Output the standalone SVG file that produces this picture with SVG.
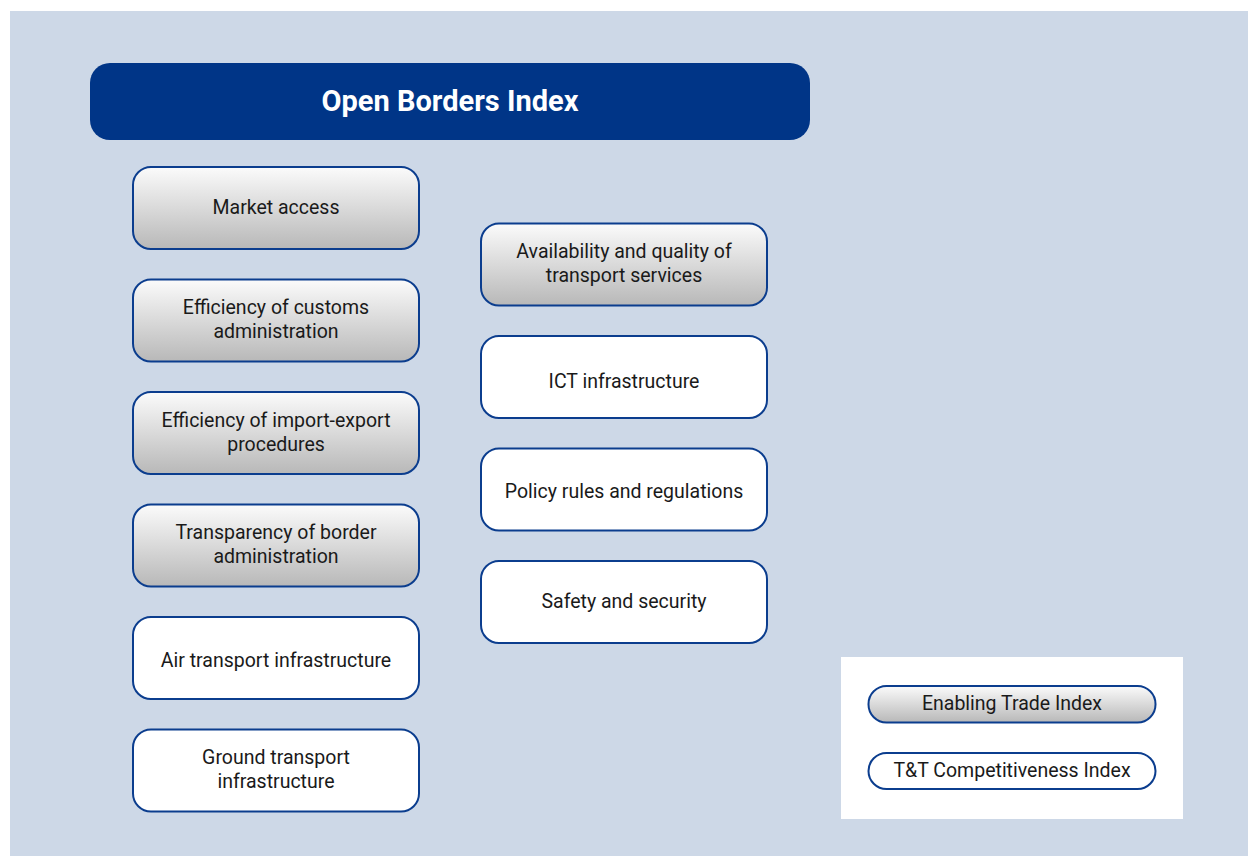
<svg xmlns="http://www.w3.org/2000/svg" width="1248" height="856" viewBox="0 0 1248 856">
<defs>
<linearGradient id="g" x1="0" y1="0" x2="0" y2="1">
<stop offset="0" stop-color="#fbfbfb"/>
<stop offset="1" stop-color="#b8b8b8"/>
</linearGradient>
</defs>
<style>
.box{stroke:#0b3d8e;stroke-width:2}
.grad{fill:url(#g)}
.white{fill:#ffffff}
.t{font-family:"Liberation Sans Narrow","Roboto","Liberation Sans",sans-serif;font-size:19.5px;fill:#1a1a1a;text-anchor:middle}
.title{font-family:"Liberation Sans Narrow","Roboto","Liberation Sans",sans-serif;font-size:29px;font-weight:bold;fill:#ffffff;text-anchor:middle}
</style>
<rect x="0" y="0" width="1248" height="856" fill="#ffffff"/>
<rect x="10" y="11" width="1238" height="845" fill="#cdd8e7"/>
<g id="header">
<rect x="90" y="63" width="720" height="77" rx="20" fill="#003587"/>
<text class="title" x="450" y="111">Open Borders Index</text>
</g>
<g id="market-access">
<rect class="box grad" x="133" y="167" width="286" height="82" rx="18"/>
<text class="t" x="276" y="214">Market access</text>
</g>
<g id="customs">
<rect class="box grad" x="133" y="279.5" width="286" height="82" rx="18"/>
<text class="t" x="276" y="314">Efficiency of customs</text>
<text class="t" x="276" y="338">administration</text>
</g>
<g id="import-export">
<rect class="box grad" x="133" y="392" width="286" height="82" rx="18"/>
<text class="t" x="276" y="427">Efficiency of import-export</text>
<text class="t" x="276" y="451">procedures</text>
</g>
<g id="transparency">
<rect class="box grad" x="133" y="504.5" width="286" height="82" rx="18"/>
<text class="t" x="276" y="539">Transparency of border</text>
<text class="t" x="276" y="563">administration</text>
</g>
<g id="air">
<rect class="box white" x="133" y="617" width="286" height="82" rx="18"/>
<text class="t" x="276" y="667">Air transport infrastructure</text>
</g>
<g id="ground">
<rect class="box white" x="133" y="729.5" width="286" height="82" rx="18"/>
<text class="t" x="276" y="764">Ground transport</text>
<text class="t" x="276" y="788">infrastructure</text>
</g>
<g id="transport-services">
<rect class="box grad" x="481" y="223.5" width="286" height="82" rx="18"/>
<text class="t" x="624" y="258">Availability and quality of</text>
<text class="t" x="624" y="282">transport services</text>
</g>
<g id="ict">
<rect class="box white" x="481" y="336" width="286" height="82" rx="18"/>
<text class="t" x="624" y="388">ICT infrastructure</text>
</g>
<g id="policy">
<rect class="box white" x="481" y="448.5" width="286" height="82" rx="18"/>
<text class="t" x="624" y="498">Policy rules and regulations</text>
</g>
<g id="safety">
<rect class="box white" x="481" y="561" width="286" height="82" rx="18"/>
<text class="t" x="624" y="608">Safety and security</text>
</g>
<g id="legend">
<rect x="841" y="657" width="342" height="162" fill="#ffffff"/>
<rect class="box grad" x="868.5" y="686" width="287" height="36.5" rx="18"/>
<text class="t" x="1012" y="710">Enabling Trade Index</text>
<rect class="box white" x="868.5" y="753" width="287" height="36" rx="18"/>
<text class="t" x="1012" y="777">T&amp;T Competitiveness Index</text>
</g>
<g id="connectors"></g>
</svg>
